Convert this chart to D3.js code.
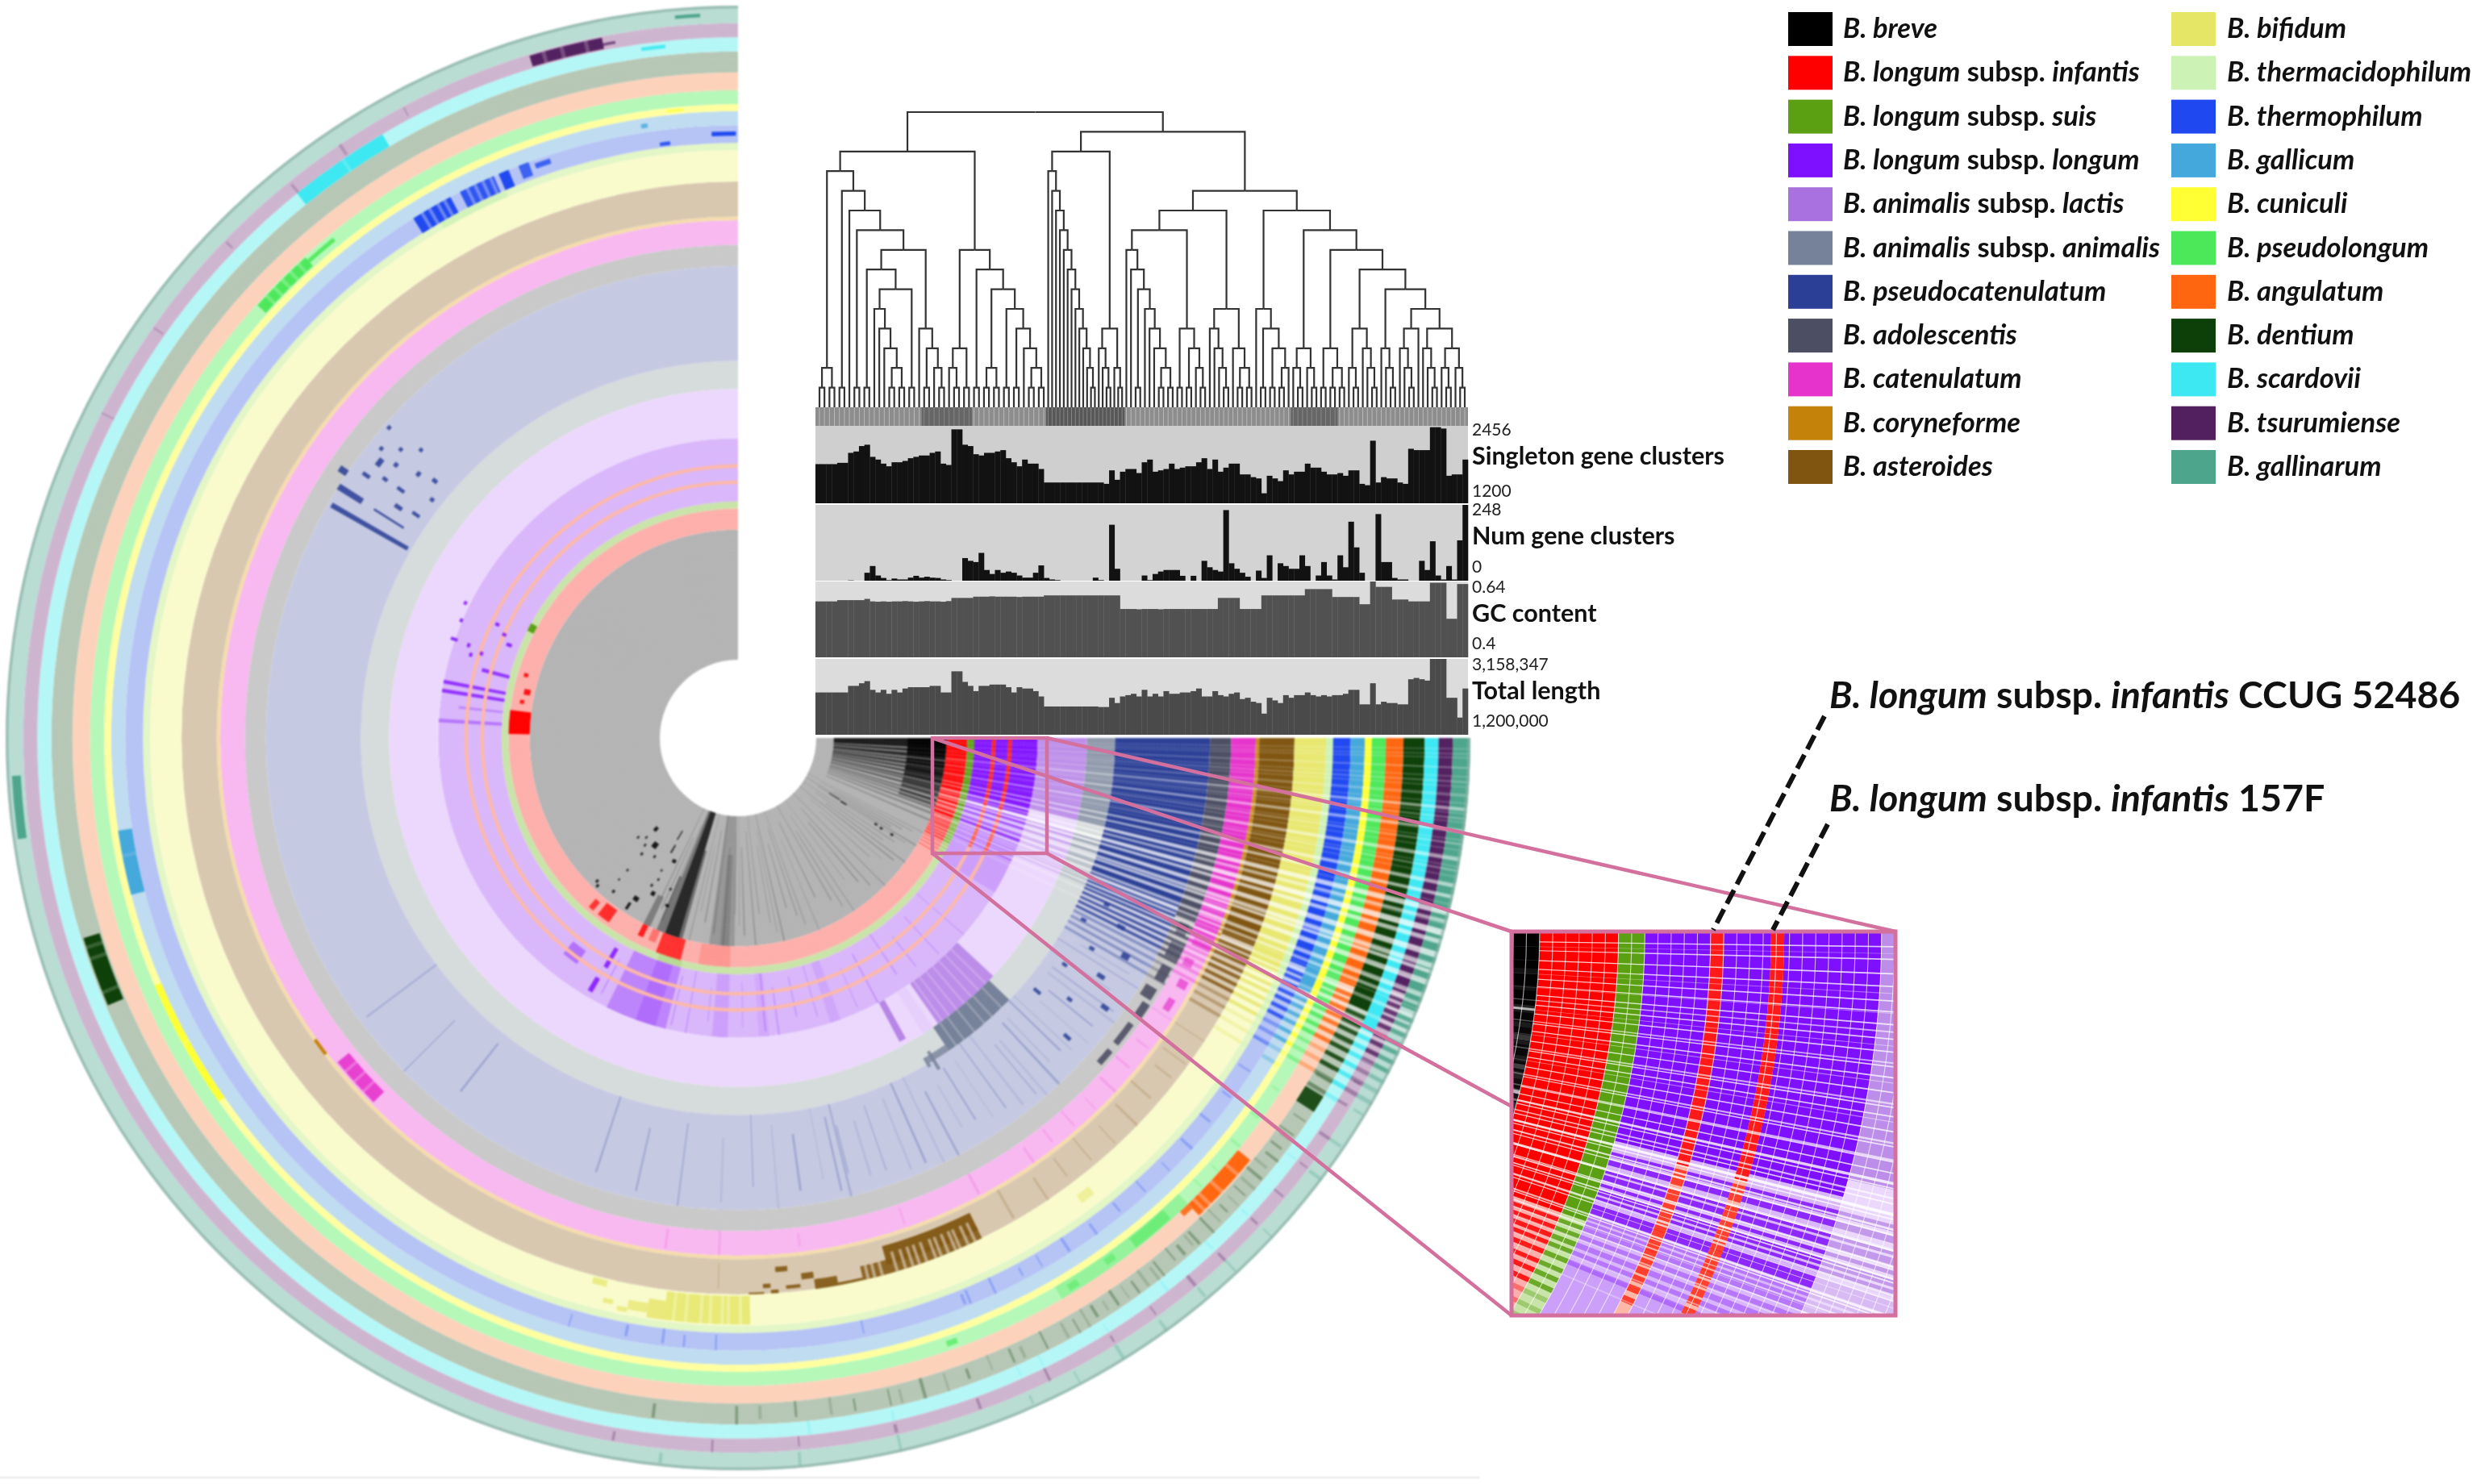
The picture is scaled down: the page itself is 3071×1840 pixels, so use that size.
<!DOCTYPE html>
<html><head><meta charset="utf-8">
<script src="https://cdn.jsdelivr.net/npm/d3@7/dist/d3.min.js"></script>
<style>html,body{margin:0;background:#fff}svg{display:block}text{font-family:Lato,"Open Sans",sans-serif}</style>
</head><body>
<svg id="c" width="3071" height="1840"></svg>
<script>
// ---------- species (rings, from the centre outwards) ----------
const speciesNames=[["B. breve"],["B. longum"," subsp. ","infantis"],["B. longum"," subsp. ","suis"],["B. longum"," subsp. ","longum"],["B. animalis"," subsp. ","lactis"],["B. animalis"," subsp. ","animalis"],["B. pseudocatenulatum"],["B. adolescentis"],["B. catenulatum"],["B. coryneforme"],["B. asteroides"],["B. bifidum"],["B. thermacidophilum"],["B. thermophilum"],["B. gallicum"],["B. cuniculi"],["B. pseudolongum"],["B. angulatum"],["B. dentium"],["B. scardovii"],["B. tsurumiense"],["B. gallinarum"]];
const genomeCounts=[37,6,2,18,14,8,27,6,7,1,10,9,2,5,4,2,4,5,6,4,4,5];
const fullColors=["#000000","#ff0000","#5aa012","#7f0fff","#a970e0","#76819a","#2b3f96","#4c4e63","#e633cc","#c4820a","#7f5510","#e5e566","#cdf2b5","#1f48f0","#44a8dc","#ffff33","#4de85a","#ff660f","#0d3f08","#3de8f2","#52205f","#4da58b"];
const paleColors=["#b4b4b4","#fdb0ab","#c9e4a8","#d9b7fa","#ecd8fd","#d6dbdc","#c5c9e2","#c9c9c9","#f8b8f0","#f5dcaa","#d9c8b0","#f9fbcc","#e2f6c6","#b5c3f5","#bfdcf0","#ffffa0","#b5f8b8","#fdd2bb","#b7c7b5","#b5f7f7","#ceb5cf","#b9dcd3"];
const coreEnd=[0,21,21,15,14,14,21,22,19,19,22,23,23,22,24,24,22,22,23.5,25,21,22];
const coreAlpha=[1,1,1,1,.72,.75,1,1,1,.9,1,.9,1,1,1,1,1,1,1,1,1,1];
const infantisStrains=[50,54.6];
// gene-cluster rows: lighter rows in the core, mottled rows after it
const whiteRows=[[1.2,.12,.2],[2.3,.12,.2],[3.4,.15,.25],[4.5,.15,.25],[5.5,.25,.5],[6.3,.12,.35],[7.2,.25,.5],[8.3,.15,.35],[9.4,.3,.5],[10.4,.15,.35],[11.5,.3,.55],[12.4,.3,.55],[13.6,.45,.7],[14.4,.3,.55],[15.2,.5,.75],[16,.35,.65],[17,.5,.7],[18,.4,.65],[18.5,.3,.65],[19.3,.45,.65],[20.4,.4,.55],[21.2,.3,.5],[22.3,.3,.4],[23.5,.3,.3],[25,.3,.2]];
const fineRows=[0.8,1.5,2.3,3.0,3.8,4.4,5.1,5.9,6.6,7.4,8.0,8.8,9.6,10.1,10.9,11.7,12.5,13.1,13.9,14.7,15.5,16.3,17.1,17.9,18.7,19.6,20.6,21.7];
const mottledRows=[15.8,16.4,17,17.5,18,18.6,19.1,19.6,20,20.5,21,21.4,22,22.6,23.2,23.9,24.7,25.4,26.2,27,27.9,28.8,29.8,31];
const breveRows=[[0,3,.85],[3.4,1,.8],[4.8,1.4,.8],[6.6,.8,.75],[7.8,1,.7],[9.2,.9,.7],[10.6,.8,.65],[12,.9,.6],[13.2,.7,.6],[14.4,.8,.55],[16,.6,.5],[17,.7,.5],[18.3,.5,.45],[19.5,.6,.4],[21,.5,.35],[23,.4,.3]];
const breveOuter=[[0,6,.9],[6.4,2,.85],[8.8,2,.85],[11.2,1.6,.8],[13.2,1.6,.75],[15.2,1.2,.7],[17,1,.6],[18.4,.8,.5]];
// saturated patches: ring, first row, last row, alpha, inner and outer share of the ring
const patches=[[0,91,98,.16,0,1],[0,92.5,95,.12,.3,1],[0,106.5,110.5,.78,0,1],[0,105.5,106.5,.4,.3,1],[0,110.5,112,.35,0,1],[0,112,113,.35,.55,1],[0,115,117,.3,.75,1],[1,104.5,111,.72,0,1],[1,115.5,117,.85,0,.6],[1,125,128.5,.75,.1,.8],[1,130,131.5,.7,.3,.8],[1,112,114,.35,0,.6],[1,92,100,.14,0,1],[2,104,110,.15,0,1],
[3,104,116,.3,0,1],[3,106,110,.2,0,1],[3,119.5,120.5,.85,.1,.45],[3,119.8,120.8,.85,.65,.9],[3,125.5,129,.42,.4,.65],[3,92,95,.14,0,1],[3,84,86,.08,0,1],[3,70,72,.1,0,1],[3,24,31,.14,0,1],
[4,43,55,.72,0,1],[5,44,56,1,0,1],[5,56,59.5,.8,.75,1],[4,60.8,62,.8,0,.9],[4,56,58,.08,0,1],[17,39.5,46,1,0,.9],[17,46,47,.9,0,.35],[18,31.5,33,.9,0,1],[16,46,60,.3,0,1],[16,48,52,.55,.1,.9],[16,54,55,.5,.2,.7],[16,58,59,.5,.3,.8],[16,70,71,.7,.3,.7],
[10,64,74.2,.95,.2,.75],[10,64,77,.88,.6,1],[10,84.7,86,.9,.25,.4],[10,82,83.3,.9,.5,.68],[10,83.5,85,.9,.8,.9],[10,86.6,87.4,.9,.72,.84],[10,85.8,86.6,.9,.9,1],[10,87.3,88.9,.9,.95,1],[10,79.6,82,.9,.72,1],[10,77,79.6,.9,.92,1],
[11,88.8,97.3,.85,.05,.95],[11,97.3,99,.8,.35,.95],[11,99,101,.7,.5,.8],[11,102.5,103.5,.7,.6,.75],[11,101,102,.7,.75,.9],[11,103.5,105,.7,.05,.25],[11,52,53.5,.5,.4,.7],
[8,135,141,.9,.3,.9],[9,142.5,144.5,1,0,1],[15,145,157,1,0,1],[18,157,163,1,.1,.9],[14,165.5,171.5,1,0,1],[21,172,177,1,.2,.7],[16,222,228,1,.1,.9],[16,228,231,.9,.4,.7],[19,231,239.5,1,0,1],[13,238,242,1,0,1],[13,243,246.5,.9,0,1],[13,247,248,1,0,1],[13,249,250,.8,.2,1],[13,250.5,252,.8,.5,.8],[12,240,247,.7,0,1],[20,253,259,1,.1,.9],[20,259,260,.7,.3,.5],[21,265,267,1,.4,.6],[19,262,264,.9,.5,.75],[13,267.5,269.8,1,.4,.65],[13,262.5,263.5,.9,.1,.3],[14,261,261.6,.8,.3,.6],[15,263.5,265,1,.4,.7],[1,181,187,1,0,1],[1,189,190,.9,.4,.6],[1,191.5,193,.9,.2,.5],[1,196,197,.9,.5,.7],[2,207,209,1,0,1],[3,190.5,191.2,.8,0,1],[3,188.8,189.5,.8,0,1],[3,183,183.7,.4,0,1],[3,194.5,195.3,.8,0,.45],[3,186,186.5,.3,0,.7],
[7,22.5,24,.9,.3,.8],[7,25,27,.8,.3,1],[7,28,30,.9,.4,.9],[7,31,32.5,.9,.2,.8],[7,33,35,.9,.5,.9],[7,36,39,.9,.5,.8],[7,40,42,.9,.5,.8],[8,21,22,.7,0,1],[8,23,24.5,.6,.2,1],[8,26,27,.6,.2,.6],[8,28.5,29.5,.7,.4,.8],[8,31,32.5,.7,.4,.7]];
// pale rows cutting through the patches: ring, rows, alpha, inner share of the ring
const gapRows=[[10,[64.6,65.4,66.3,66.8,67.6,68.4,69,70,70.8,71.5,72.3,73.2,74.8,75.6,76.3],.7,.42],[11,[89.6,90.8,91.4,92.6,93.5,95,96.2],.45,0],[13,[238.8,239.6,240.5,241.2,243.6,244.4,245.2,246],.5,0],[19,[235.5],.25,0],[17,[41,43,44.5,45.2],.4,0],[8,[136.5,138,139.5],.4,0],[16,[223,224,225,226,227],.4,0],[20,[254,255.5,257.5],.3,0],[18,[158,161,162],.25,0],[5,[45.5,47.5,49,51,53,54.5],.35,0],[4,[44.6,46.2,47.8,49.4,51,52.6,54],.35,0],[15,[151],.3,0],[14,[169],.2,0]];
// speckles: row, first genome, row span, genome span, species
const speckles=[[221.4,110,.5,1.1,6],[218.8,107.8,.5,1.1,6],[220.3,103.4,.5,1.1,6],[222,99,.5,1.1,6],[217,105.5,1.1,1.6,6],[218.3,101.6,.6,1.2,6],[219.2,95,.7,1.2,6],[220,90,.6,1.6,6],[213.7,112,.8,2.6,6],[216,101.4,.5,1.6,6],[216.1,95.6,.5,2.4,6],[217.6,87.4,.6,1.2,6],[213.9,93.3,.6,2.4,6],[209.5,86,.65,25,6],[211.8,104,.8,8,6],[215,106,.5,2.4,6],[214.5,88,.5,2.4,6],[212,90,.28,10,6],[24,92,.6,1.6,6],[26,98,.6,2.4,6],[27.5,88,.5,1.6,6],[29,103,.8,2.4,6],[30.5,94,.5,1.6,6],[33,100,.6,2.4,6],[34.5,90,.5,1.6,6],[36,106,.6,2.4,6],[38,97,.5,1.6,6],[40,88,.5,2.4,6],[42,103,.5,2.4,6],[58.5,82,.5,6,5],[59.5,83,.5,3,5],
[206,63.8,.7,.9,3],[202.7,62.8,.7,.9,3],[204.9,52.8,.7,1.2,3],[203.5,49.8,.7,1.2,3],[201.7,47.2,.8,1.6,3],[198.6,58.3,.8,.9,3],[197.8,54.1,.8,.9,3],[196.9,56.9,.8,.9,3],[198.9,62.2,.6,2,3],
[131.2,11.9,1.6,1.4,0],[126.6,15.4,2.2,1.8,0],[134.8,17.4,.7,.8,0],[132.3,15.8,.7,.8,0],[130.6,17.7,.7,.8,0],[129.3,20.2,.8,.8,0],[124.7,18.6,.8,.8,0],[116.6,16.7,1.6,1,0],[129.6,26.4,.6,.7,0],[134.2,34.4,.7,.9,0],[133.2,35.3,.7,.9,0],[128.7,33.5,.7,.9,0],[129.8,30,.5,.6,0],[119.7,20.9,.6,.7,0],[119,23.6,.7,.7,0],[120,25.9,.7,.8,0],[118,27.5,1.3,1.3,0],[121.6,31.2,1.6,1.4,0],[122.8,33.7,.8,2.2,0],[113.7,24.5,.7,.7,0],[112.3,29.1,1.2,.8,0],[120,13,.6,2.6,0],[120.6,8.5,.5,3,0],[31.7,23.6,.7,.8,0],[31.9,25.5,.7,.8,0],[31.8,29,.7,.8,0],[31.4,12,.5,2,0],[31,8,.4,3.5,0]];
// thin darker rows per species
const darkRows=[[0,[27,28,29,30,31,32,33.5,35,36.5,38,40,42,45,48,50,53,56,58,60,64,67,70,71.5,74,77,78.5,80,83,85,88,89.5,91,94,97,100,102,103.5,112.5,114,115.5],.3],[3,[41,47,52,56,62,66,74,78,82,84.5,89,96,100,103,118],.28],[6,[32,36,39,44,47,50,54,58,62,66,71,75.7,76,77,82,88,97.3,102.6,108,128,135,143],.28],[6,[27,29,31,34,37,41,43,46,49,52,56,60,64,68,73,79,85,92],.12],[8,[33,35,37,40,43,46,49,52,55,62,71,83,92,98],.2],[10,[33,36,38,41,44,47,50,53,56,60,92],.2],[13,[30,33,36,39,42,45,48,51,54,57,60,62,65,67.5,68,78,92,95,97,100.5,106],.28],[16,[28,30,33,36,39,42,44],.25],[18,[25,26.5,28,29,30,34,35.5,37,38,40,42,44,46,47.5,49,50,51.5,54,56,58,60,63,66,70,74,77,80,85,90,97],.32],[18,[27.2,31,36,39,41,43,45,48,52,53,55,57,59,61,65,68,72,76,82,88],.16],[19,[31,37,43,47,52,58,64,66,77,84],.18],[20,[25,27,29,31,34,37,40,43,46.9,50,54,58,64,70,77,85,92,100],.32],[21,[25,28,31,34,37,43,46.9,50,54,58,62,66,77,85,96],.3],[20,[207,215,224,231,236,242],.22]];
// ---------- tree of genomes: 1 leaf, 2 closely packed leaf, 3 darker-labelled leaf ----------
const P=[1,1],D=[3,3],Q=[2,2];
const cladeA1=[[P,P],[P,[1,[P,[[P,[[1,[1,[1,[P,P]]]],P]],[1,[D,[3,D]]]]]]]];
const cladeA2=[[[3,D],D],[P,[[P,P],[P,[P,[1,[P,P]]]]]]];
const cladeB=[[2,[2,[2,[2,[2,[2,[2,[2,[2,[2,[2,Q]]]]]]]]]]],[[2,[2,Q]],[2,Q]]];
const cladeC1=[[[1,[1,[P,[1,[1,[1,[P,P]]]]]]],[P,[P,[1,P]]]],[[1,[1,[1,P]]],[1,[P,P]]]];
const cladeC2=[[1,[P,[P,[P,1]]]],[[[3,D],[3,D]],[[D,[D,P]],[[[1,P],[1,[1,P]]],[[1,[1,P]],[[[1,[1,P]],1],[[1,[1,P]],[[1,P],[1,P]]]]]]]]];
const genomeTree=[[cladeA1,cladeA2],[cladeB,[cladeC1,cladeC2]]];
// ---------- bar layers (one value per genome column) ----------
const singleton=[1835,1835,1835,1835,1856,1856,2018,2040,2128,2150,1953,1909,1843,1800,1865,1865,1887,1931,1953,1975,1975,2018,2040,1843,1821,2399,2399,2150,2128,1996,1975,2018,2018,2040,2062,1931,1865,1800,1909,1843,1843,1756,1537,1537,1537,1537,1537,1537,1537,1537,1537,1537,1537,1515,1734,1581,1712,1756,1756,1690,1865,1909,1712,1734,1756,1843,1756,1778,1800,1800,1865,1931,1756,1909,1712,1778,1843,1843,1668,1668,1624,1603,1362,1646,1603,1559,1734,1668,1712,1712,1843,1778,1778,1712,1668,1668,1690,1646,1734,1734,1515,1493,2215,1537,1624,1603,1603,1537,1515,2084,2062,2062,2062,2434,2434,2412,1646,1668,1668,1909];
const numClusters=[0,0,0,0,0,0,1,0,0,26,48,17,9,2,7,4,4,10,16,10,13,10,9,4,2,0,0,74,65,61,91,35,22,35,26,30,26,17,10,10,26,50,9,4,2,0,0,0,0,0,0,10,2,0,183,39,0,0,0,0,17,2,22,30,35,35,35,16,0,16,0,65,44,35,30,231,57,39,26,13,0,33,9,83,0,57,48,39,39,83,48,0,17,61,17,4,83,44,193,109,26,0,0,218,61,61,9,4,4,0,0,65,35,129,17,4,48,4,132,248];
const gcContent=[.577,.577,.577,.577,.581,.581,.581,.581,.581,.585,.577,.576,.577,.576,.577,.577,.578,.577,.576,.577,.578,.577,.577,.576,.578,.588,.588,.588,.588,.592,.592,.592,.593,.592,.592,.592,.592,.591,.592,.592,.592,.592,.596,.596,.596,.596,.596,.596,.596,.596,.596,.596,.596,.596,.596,.596,.553,.553,.553,.552,.553,.553,.553,.552,.553,.553,.553,.553,.553,.553,.553,.553,.553,.553,.588,.588,.588,.588,.553,.553,.553,.553,.596,.596,.596,.596,.596,.596,.596,.596,.616,.616,.616,.616,.616,.591,.591,.591,.591,.591,.568,.568,.64,.623,.623,.623,.583,.583,.583,.577,.577,.577,.577,.636,.636,.636,.522,.522,.632,.632];
const totalLength=[2292,2292,2292,2292,2292,2292,2462,2462,2530,2585,2360,2292,2360,2258,2360,2292,2394,2428,2428,2428,2428,2462,2462,2292,2292,2838,2838,2565,2462,2326,2462,2462,2496,2496,2496,2428,2292,2428,2394,2394,2326,2189,1930,1930,1930,1930,1930,1930,1930,1930,1930,1930,1916,1916,2155,2019,2189,2223,2258,2189,2360,2189,2258,2189,2326,2258,2258,2292,2292,2326,2394,2189,2189,2326,2223,2189,2258,2292,2121,2155,2053,2019,1746,2155,2087,2019,2223,2155,2223,2223,2292,2223,2189,2223,2189,2223,2223,2258,2360,2360,1985,1985,2530,1985,2053,2019,2019,1985,1985,2633,2667,2633,2599,3158,3158,3158,2155,2155,1643,2394];
const layers=[{name:"Singleton gene clusters",values:singleton,dom:[1200,2456],lo:"1200",hi:"2456",fill:"#121212",bg:"#cfcfcf"},
{name:"Num gene clusters",values:numClusters,dom:[0,248],lo:"0",hi:"248",fill:"#121212",bg:"#d3d3d3"},
{name:"GC content",values:gcContent,dom:[.4,.64],lo:"0.4",hi:"0.64",fill:"#515151",bg:"#dcdcdc"},
{name:"Total length",values:totalLength,dom:[1200,3158.347],lo:"1,200,000",hi:"3,158,347",fill:"#4a4a4a",bg:"#dcdcdc"}];
const callouts=["CCUG 52486","157F"];

// ---------- scales ----------
const svg=d3.select("#c");
const chart=svg.append("g").style("filter","blur(.5px)");
const cx=915,cy=915;
const cum=[0,...d3.cumsum(genomeCounts)];
const rad=d3.scaleLinear([0,d3.sum(genomeCounts)],[97,908]);
const ang=d3.scaleLinear([0,270],[Math.PI/2,Math.PI*2]);
const arc=d3.arc();
const sect=(g0,g1,a0,a1)=>arc({innerRadius:rad(g0),outerRadius:rad(g1),startAngle:ang(a0),endAngle:ang(a1)});
function add(g,d,fill,op){g.append("path").attr("d",d).attr("fill",fill).attr("opacity",op);}

function drawRings(parent,inset){
  const g=parent.append("g").attr("transform",`translate(${cx},${cy})`);
  genomeCounts.forEach((n,i)=>{ add(g,sect(cum[i],cum[i+1],0,270),paleColors[i],1);
    if(i>0) add(g,sect(cum[i],cum[i+1],0,coreEnd[i]),fullColors[i],coreAlpha[i]); });
  breveRows.forEach(r=>add(g,sect(5,37,r[0],r[0]+r[1]),"#000",r[2]));
  breveOuter.forEach(r=>add(g,sect(26,37,r[0],r[0]+r[1]),"#000",r[2]));
  genomeCounts.forEach((n,i)=>{ if(!i) return; mottledRows.forEach(a=>{
    if(a>coreEnd[i]&&a<coreEnd[i]+9) add(g,sect(cum[i],cum[i+1],a,a+.36),fullColors[i],(a<coreEnd[i]+5.5?.85:.38)*coreAlpha[i]); }); });
  patches.forEach(p=>{const i=p[0],w=cum[i+1]-cum[i];add(g,sect(cum[i]+p[4]*w,cum[i]+p[5]*w,p[1],p[2]),fullColors[i],p[3]);});
  gapRows.forEach(d=>{const w=cum[d[0]+1]-cum[d[0]];d[1].forEach(a=>add(g,sect(cum[d[0]]+d[3]*w,cum[d[0]+1],a,a+.32),paleColors[d[0]],d[2]));});
  darkRows.forEach(d=>{const w=cum[d[0]+1]-cum[d[0]];d[1].forEach((a,j)=>add(g,sect(cum[d[0]]+(j%3)*w*.12,cum[d[0]+1]-(j%4)*w*.08,a,a+.13+(j%5)*.035),fullColors[d[0]],d[2]));});
  infantisStrains.forEach(s=>{ add(g,sect(s,s+1,0,270),"#fdb8a8",1); add(g,sect(s,s+1,0,15.5),"#ff1a1a",1);
    mottledRows.forEach(a=>{ if(a<25) add(g,sect(s,s+1,a,a+.45),"#ff2a1a",.85); }); });
  speckles.forEach(s=>add(g,sect(s[1],s[1]+s[3],s[0],s[0]+s[2]),fullColors[s[4]],.88));
  whiteRows.forEach(r=>add(g,sect(37,186,r[0],r[0]+r[1]*(inset?.35:1)),"#fff",inset?Math.min(1,r[2]+.1):r[2]));
  whiteRows.forEach(r=>add(g,sect(5,37,r[0],r[0]+r[1]*(inset?.4:.7)),"#b4b4b4",r[2]*.8));
  fineRows.forEach(a=>add(g,sect(37,186,a,a+(inset?.08:.12)),"#fff",inset?.75:.2));
  d3.range(0,187).forEach(k=>{ g.append("path").attr("d",arc({innerRadius:rad(k)-.15,outerRadius:rad(k)+.15,startAngle:ang(0),endAngle:ang(inset?30:26)})).attr("fill","#fff").attr("opacity",inset?.65:.14);
    if(!inset) g.append("path").attr("d",arc({innerRadius:rad(k)-.3,outerRadius:rad(k)+.3,startAngle:ang(26),endAngle:ang(270)})).attr("fill","#fff").attr("opacity",.06); });
  if(!inset) g.append("path").attr("d",arc({innerRadius:904.5,outerRadius:908,startAngle:ang(0),endAngle:ang(270)})).attr("fill","#8db0a6").attr("opacity",.7);
}
drawRings(chart.append("g").style("filter","blur(.9px)"),false);

// ---------- dendrogram ----------
const hier=d3.hierarchy(genomeTree,d=>Array.isArray(d)?d:null);
const tightLeaves=new Set(hier.children[1].children[1].leaves());
const weight=d=>d.data===2?.78:tightLeaves.has(d)?.93:1;
d3.cluster().size([806,366]).separation((a,b)=>(weight(a)+weight(b))/2)(hier);
const tg=chart.append("g").attr("transform","translate(1013,139)");
const leaves=hier.leaves();
const band=chart.append("g");
band.append("rect").attr("x",1011).attr("y",505).attr("width",809).attr("height",23).attr("fill","#8d8d8d");
leaves.forEach((l,i)=>{const nb=leaves[i+1]||l;const w=Math.max(nb.x-l.x,5);
  if(l.data!==1) band.append("rect").attr("x",1013+l.x-w/2).attr("y",505).attr("width",w+.5).attr("height",23).attr("fill",l.data===2?"#585858":"#666");
  band.append("line").attr("x1",1013+l.x).attr("x2",1013+l.x).attr("y1",505).attr("y2",528).attr("stroke",l.data===1?"#bdbdbd":"#8a8a8a").attr("stroke-width",.9);});
tg.append("g").attr("fill","none").attr("stroke","#333").attr("stroke-width",2.2).selectAll("path").data(hier.links()).join("path")
  .attr("d",l=>`M${l.source.x},${l.source.y}H${l.target.x}V${l.target.y}`);

// ---------- bar layers ----------
const colX=d3.scaleBand(d3.range(120),[1011,1820]);
const rows=[[528,624],[626,720],[721,815],[817,911]];
layers.forEach((L,k)=>{const [t,b]=rows[k];
  const y=d3.scaleLinear(L.dom,[b,t]);
  const g=chart.append("g");
  g.append("rect").attr("x",1011).attr("y",t).attr("width",809).attr("height",b-t).attr("fill",L.bg);
  g.selectAll("rect.b").data(L.values).join("rect").attr("class","b").attr("x",(d,i)=>colX(i)).attr("width",colX.bandwidth()+.3).attr("y",d=>Math.max(y(d),t)).attr("height",d=>b-Math.max(y(d),t)).attr("fill",L.fill);
  const lab=chart.append("g").attr("fill","#222");
  lab.append("text").attr("x",1825).attr("y",t+ (k==0?12:k==1?13:14)).text(L.hi).attr("font-size",21);
  lab.append("text").attr("x",1825).attr("y",b-(k==0?8:k==1?10:10)).text(L.lo).attr("font-size",21);
  lab.append("text").attr("x",1825).attr("y",(t+b)/2+ (k==0?0:k==1?2:3)).text(L.name).attr("font-size",30.5).attr("font-weight",700).attr("fill","#111");
});

// ---------- zoom lines and inset ----------
const zc="#d4709d",insetBox={x:1874,y:1155,w:476,h:476},src={x:1156,y:915,w:142,h:143};
const zl=chart.append("g").attr("stroke",zc).attr("stroke-width",4.5).attr("fill","none");
[[src.x,src.y,insetBox.x,insetBox.y],[src.x+src.w,src.y,insetBox.x+insetBox.w,insetBox.y],[src.x,src.y+src.h,insetBox.x,insetBox.y+insetBox.h],[src.x+src.w,src.y+src.h,insetBox.x+insetBox.w,insetBox.y+insetBox.h]]
  .forEach(l=>zl.append("line").attr("x1",l[0]).attr("y1",l[1]).attr("x2",l[2]).attr("y2",l[3]));
zl.append("rect").attr("x",src.x).attr("y",src.y).attr("width",src.w).attr("height",src.h);
svg.append("defs").append("clipPath").attr("id","ic").append("rect").attr("x",insetBox.x).attr("y",insetBox.y).attr("width",insetBox.w).attr("height",insetBox.h);
const ig=chart.append("g").attr("clip-path","url(#ic)");
ig.append("rect").attr("x",insetBox.x).attr("y",insetBox.y).attr("width",insetBox.w).attr("height",insetBox.h).attr("fill","#fff");
const inner=ig.append("g").attr("transform",`translate(${insetBox.x},${insetBox.y}) scale(3.74,3.42) translate(-1164,-915)`);
drawRings(inner,true);
chart.append("rect").attr("x",insetBox.x).attr("y",insetBox.y).attr("width",insetBox.w).attr("height",insetBox.h).attr("fill","none").attr("stroke",zc).attr("stroke-width",5);

// ---------- callouts ----------
const co=chart.append("g").attr("fill","#111").attr("font-size",46.5);
callouts.forEach((c,i)=>{const t=co.append("text").attr("x",2268).attr("y",i?1006:878);
  t.append("tspan").attr("font-style","italic").attr("font-weight",700).text("B. longum");
  t.append("tspan").attr("font-weight",700).text(" subsp. ");
  t.append("tspan").attr("font-style","italic").attr("font-weight",700).text("infantis");
  t.append("tspan").attr("font-weight",700).text(" "+c);});
const dl=chart.append("g").attr("stroke","#111").attr("stroke-width",6).attr("stroke-dasharray","19 8");
[[2262,888,2124,1153],[2266,1022,2198,1153]].forEach(l=>dl.append("line").attr("x1",l[0]).attr("y1",l[1]).attr("x2",l[2]).attr("y2",l[3]));

// ---------- legend ----------
const lg=chart.append("g");
speciesNames.forEach((names,i)=>{const col=i<11?0:1,row=col?i-11:i;
  const x=col?2692:2217,y=15+row*54.3;
  lg.append("rect").attr("x",x).attr("y",y).attr("width",55).attr("height",42).attr("fill",fullColors[i]);
  const t=lg.append("text").attr("x",x+(col?69:68)).attr("y",y+32).attr("font-size",34.5).attr("font-weight",700).attr("fill","#111");
  names.forEach((s,j)=>t.append("tspan").attr("font-style",j%2?"normal":"italic").text(s));
});
chart.append("line").attr("x1",0).attr("x2",1835).attr("y1",1832).attr("y2",1832).attr("stroke","#f1f1f1").attr("stroke-width",3);
</script>
</body></html>
